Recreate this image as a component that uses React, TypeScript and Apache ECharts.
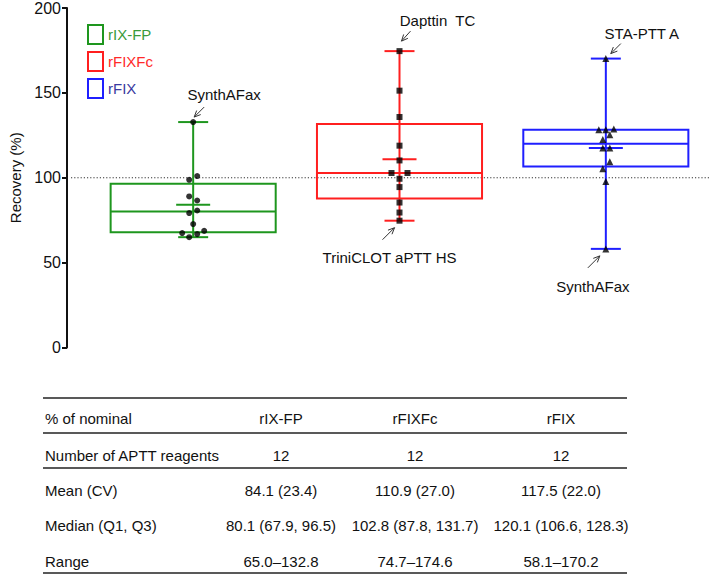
import React, { useEffect, useRef } from "react";
import * as echarts from "echarts";

// ---------- data ----------
const groups = ["rIX-FP", "rFIXFc", "rFIX"];

const rixfpValues = [132.8, 101.0, 98.8, 89.0, 86.6, 80.7, 79.2, 72.7, 67.4, 68.7, 66.8, 65.0];
const rfixfcValues = [174.6, 151.3, 135.8, 118.9, 110.2, 102.8, 102.8, 99.4, 94.5, 85.4, 79.5, 74.7];
const rfixValues = [170.2, 128.3, 128.3, 128.7, 125.4, 122.6, 117.5, 117.5, 109.4, 105.3, 97.8, 58.1];

const mins = [65.0, 74.7, 58.1];
const q1s = [67.9, 87.8, 106.6];
const medians = [80.1, 102.8, 120.1];
const q3s = [96.5, 131.7, 128.3];
const maxs = [132.8, 174.6, 170.2];
const means = [84.1, 110.9, 117.5];
const cvs = [23.4, 27.0, 22.0];
const reagentCounts = [12, 12, 12];

const yMin = 0;
const yMax = 200;
const yInterval = 50;
const refValue = 100;

const annotationLabels = ["SynthAFax", "Dapttin  TC", "STA-PTT A", "TriniCLOT aPTT HS", "SynthAFax"];
const annotationGroups = [0, 1, 2, 1, 2];
const annotationValues = [132.8, 174.6, 170.2, 74.7, 58.1];

const tableHeaderLabel = "% of nominal";
const tableRowLabels = ["Number of APTT reagents", "Mean (CV)", "Median (Q1, Q3)", "Range"];

// ---------- layout / style ----------
const FONT = "Liberation Sans, Arial, Helvetica, sans-serif";
const boxColors = ["#1e961e", "#ff1f1f", "#1f1fff"];
const legendTextColors = ["#3a9a3a", "#ff2a2a", "#3a3aa0"];
const symbols = ["circle", "rect", "triangle"];
const symbolSizes = [6, 6, 7];
const jitters = [
  [0, 4, -4, -4, 4, 4, -4, 0, -11, 11, 4, -4],
  [0, 0, 0, 0, 0, -8, 8, 0, 0, 0, 0, 0],
  [0, -7, 0, 8, 4, -3, -3, 4, 4, -3, 0, 0],
];
const annotationLayout = [
  { text: [31, -28], tail: [11, -15], head: [1, -5] },
  { text: [38, -31], tail: [11, -20], head: [2, -10] },
  { text: [36, -25], tail: [15, -15], head: [5, -5] },
  { text: [-10, 37], tail: [-17, 19], head: [-5, 7] },
  { text: [-13, 38], tail: [-18, 19], head: [-6, 7] },
];

const tableColX = [45, 281, 415, 561];
const tableRowY = [418, 455, 490, 525, 561];
const tableLineY = [398, 433, 468, 573];
const tableLineX = [43, 627];

function buildTableGraphic() {
  const els: any[] = [];
  const txt = (s: string, x: number, y: number, align: string) => ({
    type: "text",
    x,
    y,
    style: { text: s, align, verticalAlign: "middle", fontSize: 15, fontFamily: FONT, fill: "#111" },
    silent: true,
  });
  tableLineY.forEach((y) =>
    els.push({
      type: "line",
      shape: { x1: tableLineX[0], y1: y, x2: tableLineX[1], y2: y },
      style: { stroke: "#222", lineWidth: 1.5 },
      silent: true,
    })
  );
  els.push(txt(tableHeaderLabel, tableColX[0], tableRowY[0], "left"));
  groups.forEach((g, i) => els.push(txt(g, tableColX[i + 1], tableRowY[0], "center")));
  const rows: string[][] = [
    reagentCounts.map((n) => String(n)),
    means.map((m, i) => `${m.toFixed(1)} (${cvs[i].toFixed(1)})`),
    medians.map((m, i) => `${m.toFixed(1)} (${q1s[i].toFixed(1)}, ${q3s[i].toFixed(1)})`),
    mins.map((m, i) => `${m.toFixed(1)}\u2013${maxs[i].toFixed(1)}`),
  ];
  tableRowLabels.forEach((lab, r) => {
    els.push(txt(lab, tableColX[0], tableRowY[r + 1], "left"));
    rows[r].forEach((s, c) => els.push(txt(s, tableColX[c + 1], tableRowY[r + 1], "center")));
  });
  return els;
}

export default function App() {
  const ref = useRef<HTMLDivElement>(null);

  useEffect(() => {
    document.body.style.margin = "0";
    if (!ref.current) return;
    const chart = echarts.init(ref.current, undefined, { renderer: "svg" });

    const valueSets = [rixfpValues, rfixfcValues, rfixValues];

    const boxSeries = groups.map((g, i) => ({
      type: "custom",
      name: g,
      z: 2,
      silent: true,
      encode: { x: 0, y: [1, 2, 3, 4, 5, 6] },
      data: [[i, mins[i], q1s[i], medians[i], q3s[i], maxs[i], means[i]]],
      renderItem: (params: any, api: any) => {
        const x = api.value(0);
        const bw = api.size([1, 0])[0] * 0.8;
        const pMin = api.coord([x, api.value(1)]);
        const pQ1 = api.coord([x, api.value(2)]);
        const pMed = api.coord([x, api.value(3)]);
        const pQ3 = api.coord([x, api.value(4)]);
        const pMax = api.coord([x, api.value(5)]);
        const pMean = api.coord([x, api.value(6)]);
        const cx = pMed[0];
        const st = { stroke: boxColors[i], lineWidth: 2, fill: "none" };
        const capHalf = 15;
        const meanHalf = 17;
        return {
          type: "group",
          children: [
            { type: "rect", shape: { x: cx - bw / 2, y: pQ3[1], width: bw, height: pQ1[1] - pQ3[1] }, style: st },
            { type: "line", shape: { x1: cx - bw / 2, y1: pMed[1], x2: cx + bw / 2, y2: pMed[1] }, style: st },
            { type: "line", shape: { x1: cx, y1: pMin[1], x2: cx, y2: pMax[1] }, style: st },
            { type: "line", shape: { x1: cx - capHalf, y1: pMin[1], x2: cx + capHalf, y2: pMin[1] }, style: st },
            { type: "line", shape: { x1: cx - capHalf, y1: pMax[1], x2: cx + capHalf, y2: pMax[1] }, style: st },
            { type: "line", shape: { x1: cx - meanHalf, y1: pMean[1], x2: cx + meanHalf, y2: pMean[1] }, style: st },
          ],
        };
      },
    }));

    const scatterSeries = groups.map((g, i) => ({
      type: "scatter",
      name: g,
      z: 5,
      symbol: symbols[i],
      symbolSize: symbolSizes[i],
      itemStyle: { color: "#000" },
      silent: true,
      data: valueSets[i].map((v, j) => ({ value: [i, v], symbolOffset: [jitters[i][j], 0] })),
    }));

    const refLineSeries = {
      type: "custom",
      name: "ref",
      z: 1,
      silent: true,
      data: [[0, refValue]],
      renderItem: (params: any, api: any) => {
        const p = api.coord([0, api.value(1)]);
        const cs = params.coordSys;
        return {
          type: "line",
          shape: { x1: cs.x - 19, y1: p[1], x2: api.getWidth(), y2: p[1] },
          style: { stroke: "#333", lineWidth: 1, lineDash: [1.2, 2] },
        };
      },
    };

    const annotationSeries = {
      type: "custom",
      name: "annotations",
      z: 6,
      silent: true,
      clip: false,
      data: annotationGroups.map((g, k) => [g, annotationValues[k]]),
      renderItem: (params: any, api: any) => {
        const k = params.dataIndex;
        const p = api.coord([api.value(0), api.value(1)]);
        const L = annotationLayout[k];
        const hx = p[0] + L.head[0];
        const hy = p[1] + L.head[1];
        const tx = p[0] + L.tail[0];
        const ty = p[1] + L.tail[1];
        const ang = Math.atan2(hy - ty, hx - tx);
        const hl = 7;
        const spread = 0.42;
        const a1 = [hx - hl * Math.cos(ang - spread), hy - hl * Math.sin(ang - spread)];
        const a2 = [hx - hl * Math.cos(ang + spread), hy - hl * Math.sin(ang + spread)];
        return {
          type: "group",
          children: [
            { type: "line", shape: { x1: tx, y1: ty, x2: hx, y2: hy }, style: { stroke: "#333", lineWidth: 1 } },
            {
              type: "polyline",
              shape: { points: [a1, [hx, hy], a2] },
              style: { stroke: "#333", fill: "none", lineWidth: 1 },
            },
            {
              type: "text",
              x: p[0] + L.text[0],
              y: p[1] + L.text[1],
              style: {
                text: annotationLabels[k],
                align: "center",
                verticalAlign: "middle",
                fontSize: 15,
                fontFamily: FONT,
                fill: "#111",
              },
            },
          ],
        };
      },
    };

    chart.setOption({
      animation: false,
      backgroundColor: "#fff",
      grid: { left: 82, top: 8, width: 642, height: 339.5, containLabel: false },
      xAxis: {
        type: "category",
        data: groups,
        boundaryGap: true,
        show: false,
      },
      yAxis: {
        type: "value",
        min: yMin,
        max: yMax,
        interval: yInterval,
        offset: 23,
        name: "Recovery (%)",
        nameLocation: "middle",
        nameGap: 44,
        nameTextStyle: { fontSize: 15, fontFamily: FONT, color: "#111" },
        axisLine: { show: true, lineStyle: { color: "#111", width: 2 } },
        axisTick: { show: true, length: 5, lineStyle: { color: "#111", width: 2 } },
        axisLabel: { fontSize: 16, fontFamily: FONT, color: "#111", margin: 6 },
        splitLine: { show: false },
      },
      legend: {
        orient: "vertical",
        left: 82,
        top: 19,
        itemWidth: 15,
        itemHeight: 19,
        itemGap: 6,
        selectedMode: false,
        textStyle: { fontSize: 15, fontFamily: FONT },
        data: groups.map((g, i) => ({
          name: g,
          icon: "rect",
          itemStyle: { color: "rgba(255,255,255,0)", borderColor: boxColors[i], borderWidth: 2 },
          textStyle: { color: legendTextColors[i], fontSize: 15, fontFamily: FONT },
        })),
      },
      graphic: buildTableGraphic(),
      series: [refLineSeries, ...boxSeries, ...scatterSeries, annotationSeries],
    });

    return () => chart.dispose();
  }, []);

  return <div ref={ref} style={{ width: 709, height: 574 }} />;
}
